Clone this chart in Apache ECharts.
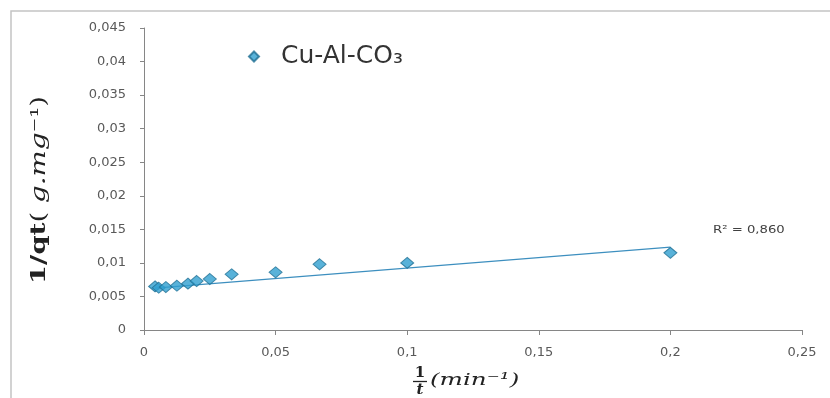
<!DOCTYPE html>
<html>
<head>
<meta charset="utf-8">
<script src="https://cdn.jsdelivr.net/npm/echarts@6/dist/echarts.min.js"></script>
<style>html,body{margin:0;padding:0;background:#fff;}#c{width:830px;height:398px;}</style>
</head>
<body>
<div id="c"></div>
<script>
// ---- data ----
const seriesName = 'Cu-Al-CO₃';
const xVals = [0.0042, 0.0056, 0.0083, 0.0125, 0.0167, 0.02, 0.025, 0.0333, 0.05, 0.0667, 0.1, 0.2];
const yVals = [0.0065, 0.0063, 0.0064, 0.0066, 0.0069, 0.0073, 0.0076, 0.0083, 0.0086, 0.0098, 0.0100, 0.0115];
const trendX = [0.0042, 0.2];
const trendY = [0.00625, 0.01236];
const r2Text = 'R² = 0,860';
const xTicks = {min: 0, max: 0.25, interval: 0.05};
const yTicks = {min: 0, max: 0.045, interval: 0.005};

const fmt = v => parseFloat(v.toFixed(4)).toString().replace('.', ',');
const chart = echarts.init(document.getElementById('c'));
chart.setOption({
  animation: false,
  backgroundColor: '#fff',
  grid: {left: 144, right: 28, top: 28, bottom: 68},
  legend: {
    data: [seriesName], left: 243, top: 39,
    icon: 'diamond', itemWidth: 10, itemHeight: 10,
    textStyle: {fontFamily: 'DejaVu Sans', fontSize: 25, color: '#333', padding: [0, 0, 0, 17]}
  },
  xAxis: {
    type: 'value', min: xTicks.min, max: xTicks.max, interval: xTicks.interval,
    axisLine: {lineStyle: {color: '#868686', width: 1}},
    axisTick: {show: true, length: 5, lineStyle: {color: '#868686'}},
    splitLine: {show: false},
    axisLabel: {formatter: fmt, color: '#595959', fontFamily: 'DejaVu Sans', fontSize: 13, margin: 16}
  },
  yAxis: {
    type: 'value', min: yTicks.min, max: yTicks.max, interval: yTicks.interval,
    axisLine: {show: true, lineStyle: {color: '#868686', width: 1}},
    axisTick: {show: true, length: 4, lineStyle: {color: '#868686'}},
    splitLine: {show: false},
    axisLabel: {formatter: fmt, color: '#595959', fontFamily: 'DejaVu Sans', fontSize: 13, margin: 18}
  },
  graphic: [
    {type: 'rect', shape: {x: 11, y: 11, width: 840, height: 420}, style: {fill: null, stroke: '#c4c4c4', lineWidth: 1.5}, silent: true},
    {type: 'text', x: 40, y: 190, rotation: Math.PI / 2, scaleX: 1.32, style: {
      text: '{b|1/qt}{n|( }{i|g.mg}{n|⁻¹)}', align: 'center', verticalAlign: 'middle',
      rich: {
        b: {fontFamily: 'DejaVu Serif', fontWeight: 'bold', fontSize: 21, fill: '#222'},
        n: {fontFamily: 'DejaVu Serif', fontSize: 21, fill: '#222'},
        i: {fontFamily: 'DejaVu Serif', fontStyle: 'italic', fontSize: 21, fill: '#222'}
      }
    }},
    {type: 'text', x: 420, y: 373, style: {text: '1', fontFamily: 'DejaVu Serif', fontWeight: 'bold', fontSize: 15, fill: '#222', align: 'center', verticalAlign: 'middle'}},
    {type: 'line', shape: {x1: 413, y1: 381.5, x2: 427, y2: 381.5}, style: {stroke: '#222', lineWidth: 1.3}},
    {type: 'text', x: 420, y: 390, style: {text: 't', fontFamily: 'DejaVu Serif', fontWeight: 'bold', fontStyle: 'italic', fontSize: 15, fill: '#222', align: 'center', verticalAlign: 'middle'}},
    {type: 'text', x: 430, y: 381, scaleX: 1.45, style: {text: '(min⁻¹)', fontFamily: 'DejaVu Serif', fontStyle: 'italic', fontSize: 17, fill: '#222', align: 'left', verticalAlign: 'middle'}},
    {type: 'text', x: 713, y: 230, scaleX: 1.2, style: {text: r2Text, fontFamily: 'DejaVu Sans', fontSize: 11, fill: '#404040', align: 'left', verticalAlign: 'middle'}}
  ],
  series: [
    {
      name: 'trend', type: 'line', data: trendX.map((x, i) => [x, trendY[i]]),
      showSymbol: false, symbol: 'none', lineStyle: {color: '#3d8fbf', width: 1.3}, z: 2, silent: true
    },
    {
      name: seriesName, type: 'scatter', data: xVals.map((x, i) => [x, yVals[i]]),
      symbol: 'diamond', symbolSize: [13, 11],
      itemStyle: {color: '#2f9fcf', borderColor: '#1f6f94', borderWidth: 1}, z: 3
    }
  ]
});
</script>
</body>
</html>
